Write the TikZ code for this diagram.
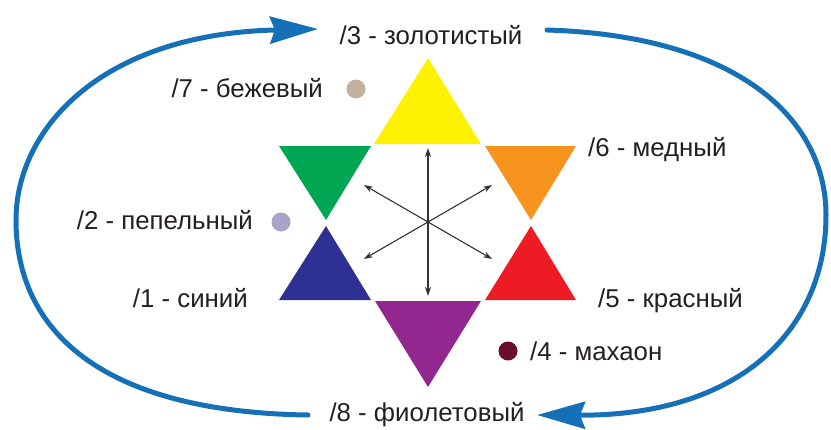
\documentclass[tikz,border=0pt]{standalone}
\usepackage{fontspec}
\setmainfont{Liberation Sans}
\usepackage{tikz}
\usetikzlibrary{arrows.meta}
\usetikzlibrary{calc}

\definecolor{arcblue}{HTML}{1570B8}
\definecolor{cyellow}{HTML}{FFF200}
\definecolor{cgreen}{HTML}{00A651}
\definecolor{corange}{HTML}{F7941D}
\definecolor{cblue}{HTML}{2E3192}
\definecolor{cred}{HTML}{ED1C24}
\definecolor{cpurple}{HTML}{92278F}
\definecolor{cbeige}{HTML}{C2B29E}
\definecolor{cash}{HTML}{A9A3CB}
\definecolor{cmahogany}{HTML}{6B0D2F}
\definecolor{labeltext}{HTML}{231F20}
\definecolor{axisgray}{HTML}{333333}

\begin{document}
\begin{tikzpicture}[x=1pt,y=-1pt,
  lbl/.style={font=\fontsize{25.8}{30}\selectfont, text=labeltext, inner sep=0pt},
  swatch/.style={circle, inner sep=0pt, minimum size=19pt},
  loop/.style={line width=5pt, draw=arcblue, line cap=round},
  axis/.style={{Stealth[length=9pt,width=6pt]}-{Stealth[length=9pt,width=6pt]}, line width=1.1pt, draw=axisgray}]

\useasboundingbox (0,0) rectangle (831,429);

% the six triangles
\fill [cyellow] (428,58) -- (481,144) -- (374,144) -- cycle;
\fill [cgreen] (279,146) -- (371,146) -- (326,220) -- cycle;
\fill [corange] (485,146) -- (576,146) -- (531,220) -- cycle;
\fill [cblue] (326,226) -- (371,300) -- (279,300) -- cycle;
\fill [cred] (531,226) -- (576,300) -- (485,300) -- cycle;
\fill [cpurple] (375,301) -- (481,301) -- (428,387) -- cycle;

% arrows in the middle
\coordinate (c) at (428,222);
\foreach \a in {30,90,150}{
  \coordinate (u\a) at ($(c)+(\a:74)$);
  \coordinate (v\a) at ($(c)+(\a+180:74)$);
  \draw[axis] (u\a) -- (v\a);
}

% dots
\node[swatch, fill=cbeige] (d7) at (356,89) {};
\node[swatch, fill=cash] (d2) at (281,222) {};
\node[swatch, fill=cmahogany] (d4) at (508,351) {};

% labels
\node[lbl, anchor=base] (l3) at (431,44) {/3 - золотистый};
\node[lbl, anchor=base east] (l7) at (323,97) {/7 - бежевый};
\node[lbl, anchor=base west] (l6) at (588,156) {/6 - медный};
\node[lbl, anchor=base east] (l2) at (253,229) {/2 - пепельный};
\node[lbl, anchor=base east] (l1) at (248,307) {/1 - синий};
\node[lbl, anchor=base west] (l5) at (598,307) {/5 - красный};
\node[lbl, anchor=base west] (l4) at (530,360) {/4 - махаон};
\node[lbl, anchor=base] (l8) at (427,421) {/8 - фиолетовый};

% blue loop
\coordinate (a8) at (308,415);
\coordinate (a3) at (318,29);
\coordinate (b3) at (547,30);
\coordinate (b8) at (537,415);
\draw[loop, -{Stealth[length=48pt,width=27pt,inset=5pt]}] (a8) .. controls (100,412) and (16,330) .. (16,220) .. controls (16,130) and (100,34) .. (a3);
\draw[loop, -{Stealth[length=48pt,width=27pt,inset=5pt]}] (b3) .. controls (740,36) and (826,120) .. (826,215) .. controls (826,330) and (740,416) .. (b8);

\end{tikzpicture}
\end{document}
